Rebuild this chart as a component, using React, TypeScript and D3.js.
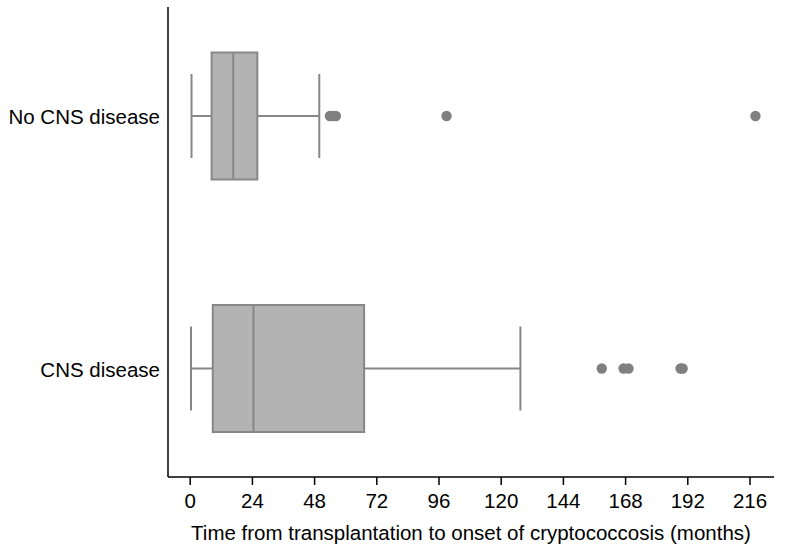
import React, { useEffect, useRef } from 'react';
import * as d3 from 'd3';

// Box plot summary, months
const groups = ['No CNS disease', 'CNS disease'];
const whiskerLow = [0.7, 0.5];
const q1 = [8.45, 8.9];
const medians = [16.8, 24.6];
const q3 = [26.1, 67.3];
const whiskerHigh = [50.0, 127.6];
const outliers = [
  [54.1, 55.2, 56.4, 99.1, 218.3],
  [159, 167.4, 169.3, 189.4, 190.2],
];
const xTicks = [0, 24, 48, 72, 96, 120, 144, 168, 192, 216];
const xTitle = 'Time from transplantation to onset of cryptococcosis (months)';

const App = () => {
  const container = useRef<SVGSVGElement | null>(null);

  useEffect(() => {
    const svgWidth = 785;
    const svgHeight = 554;
    const plotLeft = 168;
    const plotRight = 774;
    const plotTop = 7;
    const plotBottom = 477;
    const font = '"Liberation Sans", Arial, Helvetica, sans-serif';
    const fontSize = '20.5px';

    const boxFill = '#b3b3b3';
    const boxStroke = '#878787';
    const dotFill = '#808080';

    const svg = d3.select(container.current);
    svg.selectAll('*').remove();
    svg.attr('width', svgWidth).attr('height', svgHeight);

    svg.append('rect')
      .attr('width', svgWidth)
      .attr('height', svgHeight)
      .attr('fill', 'white');

    const x = d3.scaleLinear()
      .domain([0, 216])
      .range([189.7, 749.5]);

    const y = d3.scalePoint<string>()
      .domain(groups)
      .range([116, 368.5]);

    const boxHeight = 127;
    const capHeight = 84;

    // boxes
    groups.forEach((g, i) => {
      const cy = y(g) as number;
      const grp = svg.append('g');

      // whiskers
      grp.append('line')
        .attr('x1', x(whiskerLow[i])).attr('x2', x(q1[i]))
        .attr('y1', cy).attr('y2', cy)
        .attr('stroke', boxStroke).attr('stroke-width', 2);
      grp.append('line')
        .attr('x1', x(q3[i])).attr('x2', x(whiskerHigh[i]))
        .attr('y1', cy).attr('y2', cy)
        .attr('stroke', boxStroke).attr('stroke-width', 2);
      [whiskerLow[i], whiskerHigh[i]].forEach(v => {
        grp.append('line')
          .attr('x1', x(v)).attr('x2', x(v))
          .attr('y1', cy - capHeight / 2).attr('y2', cy + capHeight / 2)
          .attr('stroke', boxStroke).attr('stroke-width', 2);
      });

      // box
      grp.append('rect')
        .attr('x', x(q1[i]))
        .attr('y', cy - boxHeight / 2)
        .attr('width', x(q3[i]) - x(q1[i]))
        .attr('height', boxHeight)
        .attr('fill', boxFill)
        .attr('stroke', boxStroke)
        .attr('stroke-width', 2);

      grp.append('line')
        .attr('x1', x(medians[i])).attr('x2', x(medians[i]))
        .attr('y1', cy - boxHeight / 2).attr('y2', cy + boxHeight / 2)
        .attr('stroke', boxStroke).attr('stroke-width', 2);

      // outliers
      grp.selectAll('circle')
        .data(outliers[i])
        .enter()
        .append('circle')
        .attr('cx', d => x(d))
        .attr('cy', cy)
        .attr('r', 5.2)
        .attr('fill', dotFill);

      // category label
      svg.append('text')
        .text(g)
        .attr('x', plotLeft - 8)
        .attr('y', cy)
        .attr('dy', '0.4em')
        .attr('text-anchor', 'end')
        .attr('font-family', font)
        .attr('font-size', fontSize)
        .attr('fill', 'black');
    });

    // axes lines
    svg.append('line')
      .attr('x1', plotLeft).attr('x2', plotLeft)
      .attr('y1', plotTop).attr('y2', plotBottom)
      .attr('stroke', 'black').attr('stroke-width', 1.5);
    svg.append('line')
      .attr('x1', plotLeft).attr('x2', plotRight)
      .attr('y1', plotBottom).attr('y2', plotBottom)
      .attr('stroke', 'black').attr('stroke-width', 1.5);

    // x ticks
    const xAxis = svg.append('g')
      .attr('transform', `translate(0, ${plotBottom})`)
      .call(d3.axisBottom(x).tickValues(xTicks).tickSize(8).tickPadding(8).tickFormat(d3.format('d')));
    xAxis.select('.domain').remove();
    xAxis.selectAll('line').attr('stroke', 'black').attr('stroke-width', 1.5);
    xAxis.selectAll('text')
      .attr('font-family', font)
      .attr('font-size', fontSize)
      .attr('fill', 'black');

    svg.append('text')
      .text(xTitle)
      .attr('x', (plotLeft + plotRight) / 2)
      .attr('y', 540)
      .attr('text-anchor', 'middle')
      .attr('font-family', font)
      .attr('font-size', fontSize)
      .attr('fill', 'black');
  }, []);

  return <svg ref={container} style={{ position: 'absolute', left: 0, top: 0 }} />;
};

export default App;
